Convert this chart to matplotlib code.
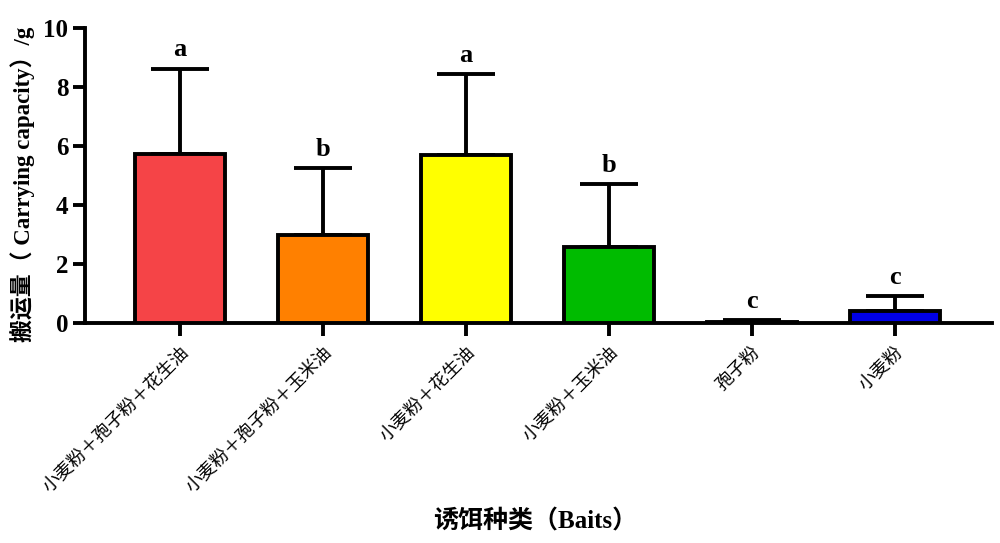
import numpy as np
import matplotlib
matplotlib.use("Agg")
from matplotlib import pyplot as plt

baits = ["小麦粉＋孢子粉＋花生油", "小麦粉＋孢子粉＋玉米油", "小麦粉＋花生油",
         "小麦粉＋玉米油", "孢子粉", "小麦粉"]
means = [5.73, 2.98, 5.70, 2.57, 0.04, 0.40]
sd = [2.90, 2.27, 2.74, 2.15, 0.06, 0.52]
letters = ["a", "b", "a", "b", "c", "c"]
colors = ["#F54447", "#FF8000", "#FFFF00", "#00BB00", "#FFFFFF", "#0000E6"]

cjk = ["Liberation Serif", "Noto Sans CJK SC", "DejaVu Sans"]
lw = 2.8

fig = plt.figure(figsize=(10, 5.43), dpi=100)
ax = fig.add_axes([0.085, 0.405, 0.907, 0.543])

x = np.arange(len(baits))
ax.bar(x, means, width=0.63, color=colors, edgecolor="black", linewidth=lw, zorder=3)
ax.errorbar(x, means, yerr=[np.zeros(len(sd)), sd], fmt="none", ecolor="black",
            elinewidth=lw, capsize=21, capthick=lw, zorder=2)

for i in range(len(baits)):
    ax.text(x[i], means[i] + sd[i] + 0.25, letters[i], ha="center", va="bottom",
            fontsize=19, fontweight="bold", family="Liberation Serif")

ax.set_xlim(-0.665, 5.68)
ax.set_ylim(0, 10)
ax.set_yticks([0, 2, 4, 6, 8, 10])
ax.set_yticklabels(["0", "2", "4", "6", "8", "10"], fontsize=18, fontweight="bold",
                   family="Liberation Serif")
ax.set_xticks(x)
ax.set_xticklabels(baits, rotation=45, ha="right", rotation_mode="anchor",
                   fontsize=13, family=cjk)
ax.tick_params(axis="both", width=lw, length=9, direction="out")
ax.tick_params(axis="y", pad=3)
ax.tick_params(axis="x", pad=6)

for s in ["top", "right"]:
    ax.spines[s].set_visible(False)
for s in ["left", "bottom"]:
    ax.spines[s].set_linewidth(lw)

fig.text(0.022, 0.66, "搬运量（ Carrying capacity）/g", rotation=90, ha="center",
         va="center", fontsize=16.5, fontweight="bold", family=cjk)
fig.text(0.535, 0.04, "诱饵种类（Baits）", ha="center", va="center", fontsize=18,
         fontweight="bold", family=cjk)

fig.savefig("out.png", dpi=100)
